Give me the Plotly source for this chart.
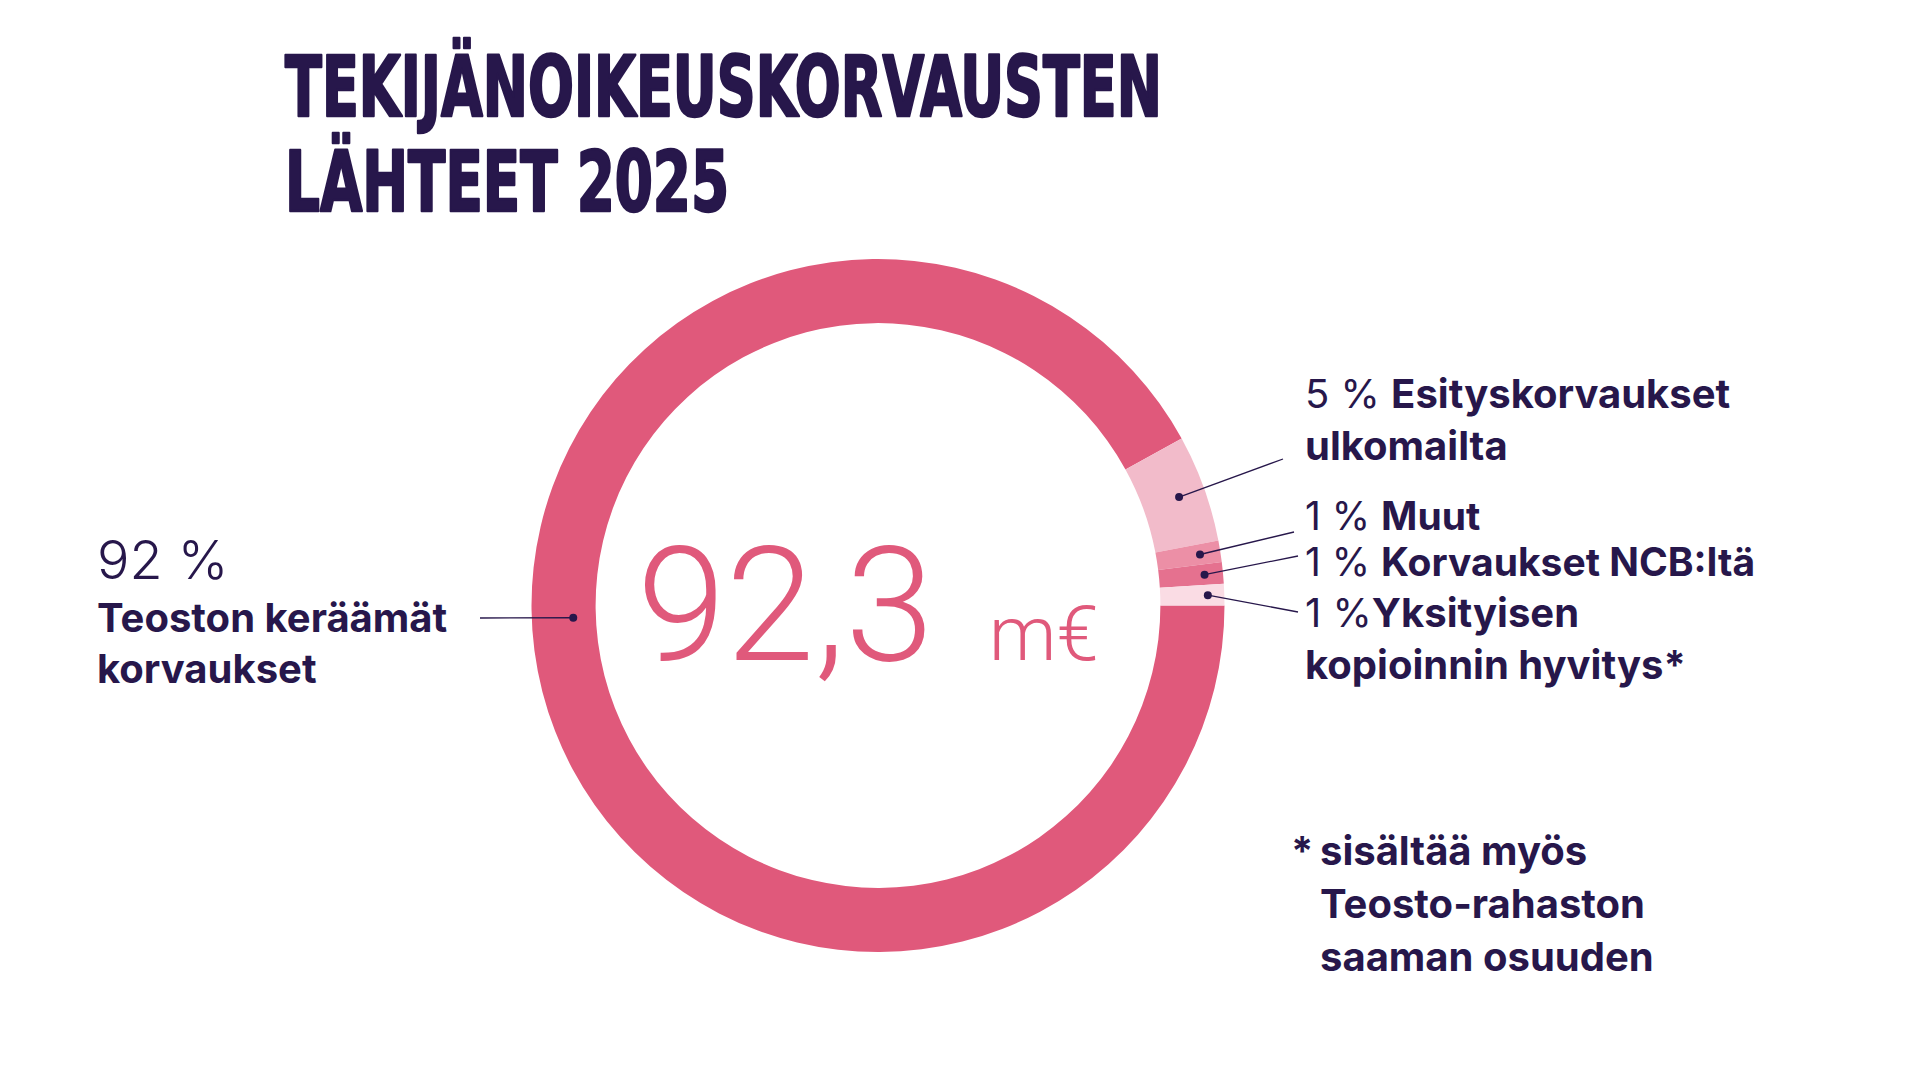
import math
import plotly.graph_objects as go

W, H = 1921, 1081

# ---------------- data ----------------
categories = ["Teoston keräämät korvaukset", "Esityskorvaukset ulkomailta", "Muut",
              "Korvaukset NCB:Itä", "Yksityisen kopioinnin hyvitys*"]
shares = [92, 5, 1, 1, 1]
total_text = "92,3"
unit_text = "m€"
title_lines = ["TEKIJÄNOIKEUSKORVAUSTEN", "LÄHTEET 2025"]
footnote_lines = ["sisältää myös", "Teosto-rahaston", "saaman osuuden"]

# ---------------- style ----------------
colors = ["#E0597B", "#F2BBCA", "#EC8FA6", "#E5718F", "#FADCE4"]
DARK = "#27174B"
PINK = "#E0597B"
CX, CY, R_OUT = 878, 605.5, 346.5
HOLE = 0.815
ROT = 90
BODY = "Inter, Roboto, sans-serif"
NUM = "Roboto, Inter, sans-serif"
TITLE = "DejaVu Sans Condensed, Liberation Sans Narrow, sans-serif"
K = {"Inter": 0.363, "Roboto": 0.342, "DejaVu": 0.346}

fig = go.Figure()

fig.add_trace(go.Pie(
    labels=categories, values=shares, sort=False, direction="clockwise",
    rotation=ROT, hole=HOLE, marker=dict(colors=colors, line=dict(width=0)),
    textinfo="none", hoverinfo="label+percent", showlegend=False,
    domain=dict(x=[(CX - R_OUT) / W, (CX + R_OUT) / W],
                y=[1 - (CY + R_OUT) / H, 1 - (CY - R_OUT) / H]),
))

# invisible trace so the pixel-space cartesian axes exist
fig.add_trace(go.Scatter(x=[0, W], y=[0, H], mode="markers",
                         marker=dict(opacity=0), hoverinfo="skip",
                         showlegend=False))

# leader dots from slice angles
tot = sum(shares)
mids = []
cum = 0
for v in shares:
    mids.append(ROT + (cum + v / 2) / tot * 360)
    cum += v
# label anchor (angle override, radius, label-end point)
leaders = [
    (267.7, 305, (480, 618)),
    (None, 320, (1283, 459)),
    (None, 326, (1294, 532)),
    (None, 328, (1298, 556)),
    (None, 330, (1298, 612)),
]
shapes = []
DOT_R = 4
for i, (ang, r, end) in enumerate(leaders):
    a = math.radians(ang if ang is not None else mids[i])
    dx = CX + r * math.sin(a)
    dy = CY - r * math.cos(a)
    shapes.append(dict(type="line", xref="x", yref="y", layer="above",
                       x0=end[0], y0=end[1], x1=dx, y1=dy,
                       line=dict(color=DARK, width=1.3)))
    shapes.append(dict(type="circle", xref="x", yref="y", layer="above",
                       x0=dx - DOT_R, x1=dx + DOT_R, y0=dy - DOT_R, y1=dy + DOT_R,
                       fillcolor=DARK, line=dict(width=0)))

anns = []


def ann(x, baseline, text, size, family, fam_key, weight=400, color=DARK):
    anns.append(dict(
        x=x, y=baseline - K[fam_key] * size, xref="x", yref="y",
        xanchor="left", yanchor="middle", align="left", showarrow=False,
        borderpad=0, text=text,
        font=dict(family=family, size=size, color=color, weight=weight)))


# title
ann(284, 116, title_lines[0], 84, TITLE, "DejaVu", 700)
ann(284, 211, title_lines[1], 84, TITLE, "DejaVu", 700)

# left label
ann(96, 579, f"{shares[0]} %", 54, BODY, "Inter", 300)
ann(96, 632, "<b>Teoston keräämät</b>", 40, BODY, "Inter")
ann(96, 683, "<b>korvaukset</b>", 40, BODY, "Inter")

# right labels
RX = 1304
ann(RX, 408, f"{shares[1]} % <b>Esityskorvaukset</b>", 40, BODY, "Inter")
ann(RX, 460, "<b>ulkomailta</b>", 40, BODY, "Inter")
ann(RX, 530, f"{shares[2]} % <b>Muut</b>", 39, BODY, "Inter")
ann(RX, 576, f"{shares[3]} % <b>Korvaukset NCB:Itä</b>", 39, BODY, "Inter")
ann(RX, 627, f"{shares[4]} %<b>Yksityisen</b>", 40, BODY, "Inter")
ann(RX, 679, "<b>kopioinnin hyvitys*</b>", 40, BODY, "Inter")

# centre
ann(636, 660, total_text, 160, NUM, "Roboto", 300, PINK)
ann(988, 660, unit_text, 76, NUM, "Roboto", 300, PINK)

# footnote
ann(1290, 865, "<b>*</b>", 40, BODY, "Inter")
for j, line in enumerate(footnote_lines):
    ann(1319, 865 + 53 * j, f"<b>{line}</b>", 40, BODY, "Inter")

fig.update_layout(
    width=W, height=H, margin=dict(l=0, r=0, t=0, b=0),
    paper_bgcolor="white", plot_bgcolor="white",
    xaxis=dict(range=[0, W], visible=False, fixedrange=True, domain=[0, 1]),
    yaxis=dict(range=[H, 0], visible=False, fixedrange=True, domain=[0, 1]),
    annotations=anns, shapes=shapes,
)

post = """
var gd = document.getElementById('{plot_id}');
var targets = {"TEKIJÄNOIKEUSKORVAUSTEN": 877, "LÄHTEET 2025": 444};
gd.querySelectorAll('text.annotation-text').forEach(function(t){
  var s = t.textContent;
  if (targets[s]) {
    t.setAttribute('textLength', targets[s]);
    t.setAttribute('lengthAdjust', 'spacingAndGlyphs');
    t.style.stroke = '#27174B';
    t.style.strokeWidth = '2.5px';
    t.style.strokeLinejoin = 'round';
  }
});
"""

fig.write_html("out.html", config={"displayModeBar": False}, post_script=post)
